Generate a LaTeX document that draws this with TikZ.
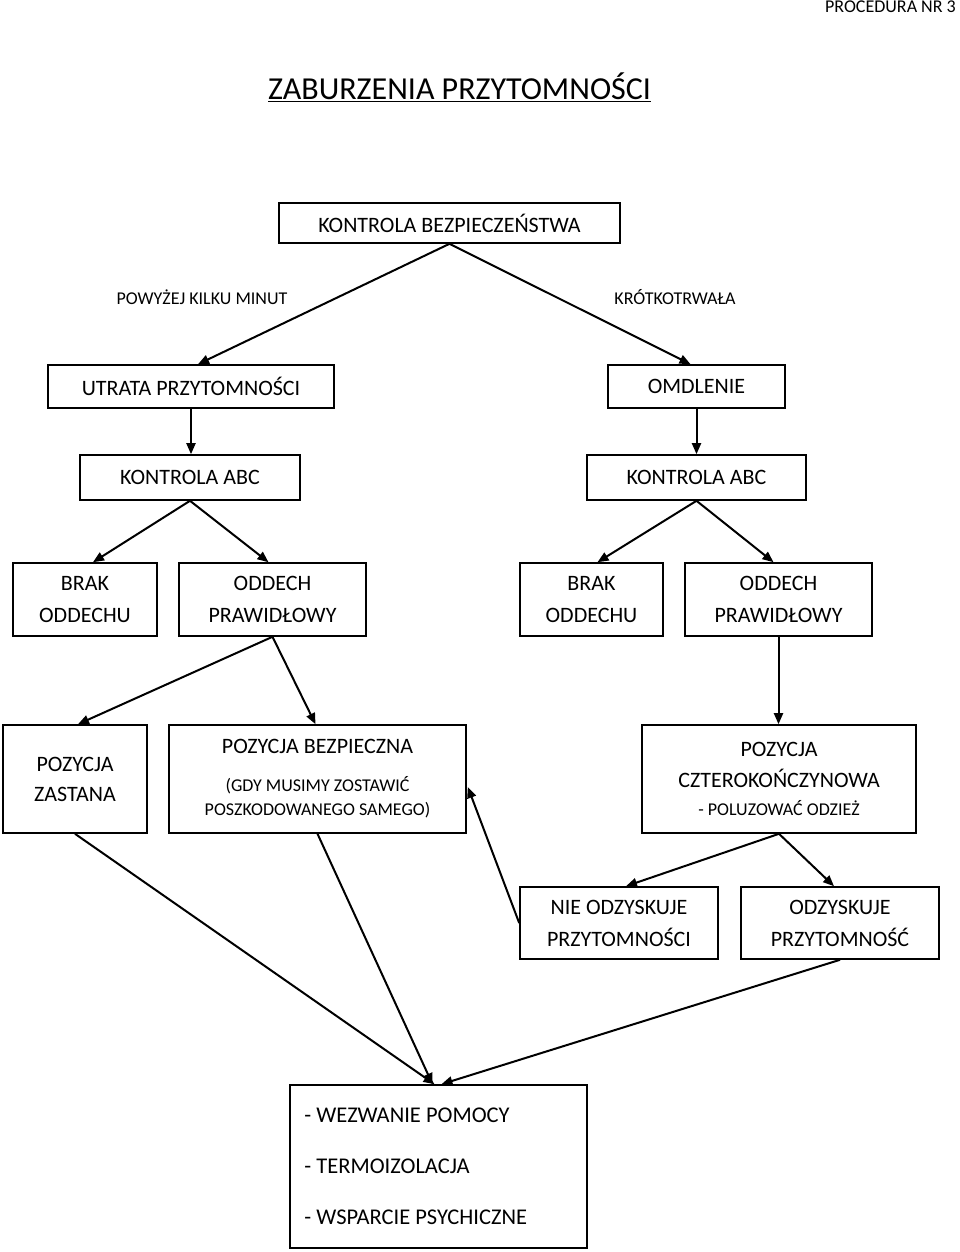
\documentclass[tikz,border=0pt]{standalone}
\usepackage{fontspec}
\setmainfont{Carlito}
\usetikzlibrary{arrows.meta,calc}
\begin{document}
\begin{tikzpicture}[x=1pt,y=-1pt,
  box/.style={draw,line width=1.6pt,align=center,inner sep=0pt,font=\fontsize{22}{32}\selectfont},
  arr/.style={line width=2pt,-{Triangle[length=11pt,width=9pt]}},
  lbl/.style={font=\fontsize{18}{20}\selectfont,inner sep=0pt}]
\useasboundingbox (0,0) rectangle (960,1252);

% header
\node[lbl,anchor=base east] (hdr) at (956,13) {PROCEDURA NR 3};
\node[inner sep=0pt,font=\fontsize{32}{36}\selectfont] (title) at (459.5,87) {\underline{ZABURZENIA PRZYTOMNOŚCI}};

% boxes
\node[box,minimum width=341,minimum height=40] (kb) at (449.5,223) {KONTROLA BEZPIECZEŃSTWA};
\node[lbl] (l1) at (202,297) {POWYŻEJ KILKU MINUT};
\node[lbl] (l2) at (675,297) {KRÓTKOTRWAŁA};

\node[box,minimum width=286,minimum height=43] (utrata) at (191,386.5) {UTRATA PRZYTOMNOŚCI};
\node[box,minimum width=177,minimum height=43] (omdl) at (696.5,386.5) {OMDLENIE};

\node[box,minimum width=220,minimum height=45] (abcL) at (190,477.5) {KONTROLA ABC};
\node[box,minimum width=219,minimum height=45] (abcR) at (696.5,477.5) {KONTROLA ABC};

\node[box,minimum width=144,minimum height=73] (brakL) at (85,599.5) {BRAK\\ODDECHU};
\node[box,minimum width=187,minimum height=73] (oddL) at (272.5,599.5) {ODDECH\\PRAWIDŁOWY};
\node[box,minimum width=143,minimum height=73] (brakR) at (591.5,599.5) {BRAK\\ODDECHU};
\node[box,minimum width=187,minimum height=73] (oddR) at (778.5,599.5) {ODDECH\\PRAWIDŁOWY};

\node[box,minimum width=144,minimum height=108,font=\fontsize{22}{30}\selectfont] (zast) at (75,779) {POZYCJA\\ZASTANA};
\node[box,minimum width=297,minimum height=108,font=\fontsize{18}{24}\selectfont] (bezp) at (317.5,779)
  {{\fontsize{22}{24}\selectfont POZYCJA BEZPIECZNA}\\[14pt](GDY MUSIMY ZOSTAWIĆ\\POSZKODOWANEGO SAMEGO)};
\node[box,minimum width=274,minimum height=108,font=\fontsize{22}{31}\selectfont] (czt) at (779,779)
  {POZYCJA\\CZTEROKOŃCZYNOWA\\[-3pt]{\fontsize{18}{20}\selectfont - POLUZOWAĆ ODZIEŻ}};

\node[box,minimum width=198,minimum height=72] (nie) at (619,923) {NIE ODZYSKUJE\\PRZYTOMNOŚCI};
\node[box,minimum width=198,minimum height=72] (odz) at (840,923) {ODZYSKUJE\\PRZYTOMNOŚĆ};

\node[box,minimum width=297,minimum height=163] (fin) at (438.5,1166.5) {};
\node[inner sep=0pt,anchor=west,align=left,font=\fontsize{22.5}{51}\selectfont] (fintxt) at ($(fin.west)+(15,0)$)
  {- WEZWANIE POMOCY\\- TERMOIZOLACJA\\- WSPARCIE PSYCHICZNE};

% connectors
\draw[arr] (kb.south) -- ($(utrata.north)+(7,0)$);
\draw[arr] (kb.south) -- ($(omdl.north)+(-6,0)$);
\draw[arr] (utrata.south) -- (utrata.south |- abcL.north);
\draw[arr] (omdl.south) -- (omdl.south |- abcR.north);
\draw[arr] (abcL.south) -- ($(brakL.north)+(8,0)$);
\draw[arr] (abcL.south) -- ($(oddL.north)+(-4,0)$);
\draw[arr] (abcR.south) -- ($(brakR.north)+(6,0)$);
\draw[arr] (abcR.south) -- ($(oddR.north)+(-5,0)$);
\draw[arr] (oddL.south) -- ($(zast.north)+(3,0)$);
\draw[arr] (oddL.south) -- ($(bezp.north)+(-2,0)$);
\draw[arr] (oddR.south) -- (oddR.south |- czt.north);
\draw[arr] (czt.south) -- ($(nie.north)+(7,0)$);
\draw[arr] (czt.south) -- ($(odz.north)+(-6,0)$);
\draw[arr] (zast.south) -- ($(fin.north)+(-4,0)$);
\draw[arr] (bezp.south) -- ($(fin.north)+(-6,0)$);
\draw[arr] (odz.south) -- ($(fin.north)+(3,0)$);
\draw[arr] (nie.west) -- ($(bezp.east)+(1,8)$);
\end{tikzpicture}
\end{document}
